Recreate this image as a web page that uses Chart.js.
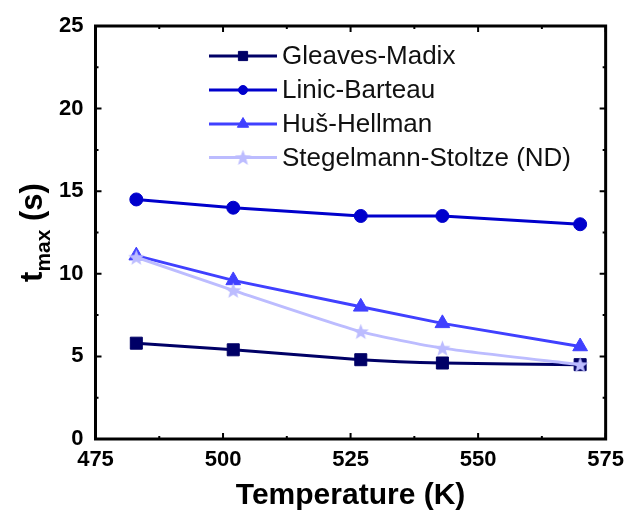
<!DOCTYPE html>
<html>
<head>
<meta charset="utf-8">
<script src="https://cdn.jsdelivr.net/npm/chart.js@4/dist/chart.umd.min.js"></script>
<style>
  html, body { margin: 0; padding: 0; background: #fff; }
  #wrap { width: 632px; height: 510px; }
</style>
</head>
<body>
<div id="wrap"><canvas id="tmax"></canvas></div>
<script>
// temperatures (K) and t_max (s) for each mechanism
var temps = [483, 502, 527, 543, 570];
var gleavesMadix = [5.8, 5.4, 4.8, 4.6, 4.5];
var linicBarteau = [14.5, 14.0, 13.5, 13.5, 13.0];
var husHellman = [11.1, 9.6, 8.0, 7.0, 5.6];
var stegelmannStoltze = [11.0, 9.0, 6.5, 5.5, 4.5];
var seriesNames = ["Gleaves-Madix", "Linic-Barteau", "Huš-Hellman", "Stegelmann-Stoltze (ND)"];

var xTicks = [475, 500, 525, 550, 575];
var yTicks = [0, 5, 10, 15, 20, 25];

var FONT = "'Liberation Sans', Arial, sans-serif";

function pairs(ys) {
	return temps.map(function(t, i) { return { x: t, y: ys[i] }; });
}

// filled five-point star, Chart.js only has the line-drawn one
function starImage(color, size) {
	var c = document.createElement("canvas");
	c.width = size; c.height = size;
	var g = c.getContext("2d");
	var cx = size / 2, cy = size / 2 + 0.7, ro = size / 2, ri = ro * 0.42;
	g.beginPath();
	for (var k = 0; k < 10; k++) {
		var r = k % 2 === 0 ? ro : ri;
		var a = -Math.PI / 2 + k * Math.PI / 5;
		g.lineTo(cx + r * Math.cos(a), cy + r * Math.sin(a));
	}
	g.closePath();
	g.fillStyle = color;
	g.fill();
	return c;
}

var colors = ["#000066", "#0000cc", "#4040ff", "#bcbcff"];
var styles = ["rect", "circle", "triangle", starImage(colors[3], 17)];
var radii = [8.5, 6.5, 8.5, 8.5];

function makeSet(i, values, order, tension) {
	return {
		label: seriesNames[i],
		data: pairs(values),
		borderColor: colors[i],
		backgroundColor: colors[i],
		borderWidth: 3,
		pointStyle: styles[i],
		pointRadius: radii[i],
		pointHoverRadius: radii[i],
		pointBorderWidth: 1,
		tension: tension,
		order: order
	};
}

// box, inward major/minor ticks on all four sides, plus the axis titles and legend
var framePlugin = {
	id: "frame",
	afterDraw: function(chart) {
		var ctx = chart.ctx, a = chart.chartArea;
		var xs = chart.scales.x, ys = chart.scales.y;
		ctx.save();
		ctx.strokeStyle = "#000";
		ctx.lineWidth = 2;
		var v, p, len;
		for (v = 475; v <= 575; v += 12.5) {
			p = xs.getPixelForValue(v);
			len = v % 25 === 0 ? 6 : 3;
			ctx.beginPath();
			ctx.moveTo(p, a.bottom); ctx.lineTo(p, a.bottom - len);
			ctx.moveTo(p, a.top); ctx.lineTo(p, a.top + len);
			ctx.stroke();
		}
		for (v = 0; v <= 25; v += 2.5) {
			p = ys.getPixelForValue(v);
			len = v % 5 === 0 ? 6 : 3;
			ctx.beginPath();
			ctx.moveTo(a.left, p); ctx.lineTo(a.left + len, p);
			ctx.moveTo(a.right, p); ctx.lineTo(a.right - len, p);
			ctx.stroke();
		}
		ctx.lineWidth = 3;
		ctx.strokeRect(a.left, a.top, a.right - a.left, a.bottom - a.top);

		// x title
		ctx.fillStyle = "#000";
		ctx.font = "bold 30px " + FONT;
		ctx.textAlign = "center";
		ctx.textBaseline = "alphabetic";
		ctx.fillText("Temperature (K)", (a.left + a.right) / 2, 504);

		// y title with subscript
		ctx.save();
		ctx.translate(42, (a.top + a.bottom) / 2);
		ctx.rotate(-Math.PI / 2);
		var big = "bold 31px " + FONT, small = "bold 21px " + FONT;
		ctx.font = big; var w1 = ctx.measureText("t").width;
		ctx.font = small; var w2 = ctx.measureText("max").width;
		ctx.font = big; var w3 = ctx.measureText(" (s)").width;
		var x0 = -(w1 + w2 + w3) / 2;
		ctx.textAlign = "left";
		ctx.font = big; ctx.fillText("t", x0, 0);
		ctx.font = small; ctx.fillText("max", x0 + w1, 8);
		ctx.font = big; ctx.fillText(" (s)", x0 + w1 + w2, 0);
		ctx.restore();

		// legend
		var rows = [56, 90, 124, 157.5];
		chart.data.datasets.forEach(function(ds, i) {
			var y = rows[i];
			ctx.strokeStyle = ds.borderColor;
			ctx.lineWidth = 3;
			ctx.beginPath();
			ctx.moveTo(209, y); ctx.lineTo(277, y);
			ctx.stroke();
			ctx.fillStyle = ds.backgroundColor;
			ctx.lineWidth = 1;
			Chart.helpers.drawPoint(ctx, {
				pointStyle: ds.pointStyle, radius: ds.pointRadius - 2, rotation: 0, borderWidth: 1
			}, 243, y);
			ctx.fillStyle = "#111";
			ctx.font = "26px " + FONT;
			ctx.textAlign = "left";
			ctx.textBaseline = "middle";
			ctx.fillText(ds.label, 282, y + 1);
		});
		ctx.restore();
	}
};

var chart = new Chart(document.getElementById("tmax"), {
	type: "line",
	data: {
		datasets: [
			makeSet(0, gleavesMadix, 3, 0.15),
			makeSet(1, linicBarteau, 2, 0),
			makeSet(2, husHellman, 1, 0),
			makeSet(3, stegelmannStoltze, 0, 0.2)
		]
	},
	options: {
		responsive: true,
		maintainAspectRatio: false,
		animation: false,
		layout: { padding: { top: 26, right: 25, left: 0, bottom: 0 } },
		plugins: { legend: { display: false }, tooltip: { enabled: false } },
		scales: {
			x: {
				type: "linear",
				min: 475, max: 575,
				afterBuildTicks: function(s) { s.ticks = xTicks.map(function(v) { return { value: v }; }); },
				afterFit: function(s) { s.height = 71; },
				grid: { display: false, drawTicks: false },
				border: { display: false },
				ticks: { color: "#000", padding: 8, font: { family: FONT, size: 22, weight: "bold" }, maxRotation: 0 }
			},
			y: {
				min: 0, max: 25,
				afterBuildTicks: function(s) { s.ticks = yTicks.map(function(v) { return { value: v }; }); },
				afterFit: function(s) { s.width = 95.5; },
				grid: { display: false, drawTicks: false },
				border: { display: false },
				ticks: { color: "#000", padding: 12, font: { family: FONT, size: 22, weight: "bold" } }
			}
		}
	},
	plugins: [framePlugin]
});
</script>
</body>
</html>
